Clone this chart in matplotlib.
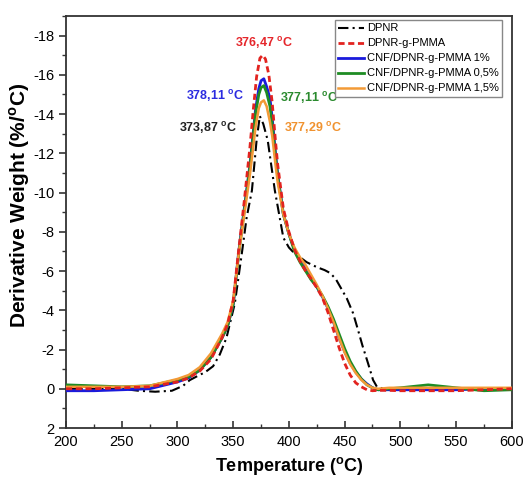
import matplotlib
matplotlib.use("Agg")
import matplotlib.pyplot as plt
from matplotlib.ticker import MultipleLocator

plt.rcParams['font.family'] = ['Liberation Sans', 'DejaVu Sans']
plt.rcParams['axes.unicode_minus'] = False
plt.rcParams['mathtext.fontset'] = 'custom'
plt.rcParams['mathtext.rm'] = 'Liberation Sans'
plt.rcParams['mathtext.bf'] = 'Liberation Sans:bold'

# values (temperature in ºC, derivative weight in %/ºC)
t_dpnr = [200, 225, 250, 265, 280, 295, 305, 311, 318, 325, 332, 338, 344, 351.5, 358, 362, 366.8,
          371, 373.9, 377, 381, 387.4, 395, 400, 405, 410, 416, 425, 432, 437, 442, 446, 452,
          457.6, 462, 466, 471, 475.5, 479, 485, 500, 525, 550, 575, 600]
dtg_dpnr = [0.0, 0.0, 0.0, 0.1, 0.15, 0.1, -0.15, -0.44, -0.65, -0.85, -1.15, -1.75, -2.6, -4.36,
            -7.0, -8.7, -10.1, -12.66, -13.9, -13.5, -12.66, -10.1, -7.7, -7.2, -6.9, -6.7, -6.45,
            -6.2, -6.05, -5.9, -5.6, -5.2, -4.6, -3.85, -3.0, -2.2, -1.3, -0.45, -0.1, 0.0, 0.0,
            0.0, 0.0, 0.0, 0.0]

t_pmma = [200, 225, 250, 275, 300, 310, 320, 330, 340, 345, 350, 355, 360, 365, 368, 371, 374,
          376.5, 379, 382, 385, 388, 390, 395, 400, 405, 410, 415, 420, 425, 430, 435, 440, 445,
          450, 455, 460, 465, 470, 475, 480, 490, 500, 525, 550, 575, 600]
dtg_pmma = [0.0, 0.0, -0.05, -0.1, -0.35, -0.55, -0.9, -1.5, -2.6, -3.3, -4.5, -7.1, -9.6, -12.3,
            -14.2, -15.9, -16.85, -17.0, -16.8, -16.0, -14.6, -12.6, -11.4, -9.2, -8.0, -7.1, -6.5,
            -6.0, -5.6, -5.15, -4.65, -3.9, -3.0, -2.1, -1.3, -0.7, -0.3, -0.1, 0.05, 0.1, 0.08,
            0.08, 0.1, 0.1, 0.1, 0.05, 0.0]

t_cnf = [200, 225, 250, 275, 300, 310, 320, 330, 340, 345, 350, 355, 360, 365, 370, 373, 375,
         377.5, 380, 383, 385, 388, 390, 395, 400, 405, 410, 415, 420, 425, 430, 435, 440, 445,
         450, 455, 460, 465, 470, 475, 480, 490, 500, 525, 550, 575, 600]
dtg_cnf_1 = [0.1, 0.1, 0.05, 0.0, -0.35, -0.55, -0.95, -1.6, -2.6, -3.2, -4.3, -7.0, -9.2, -11.4,
             -14.2, -15.3, -15.7, -15.8, -15.4, -14.8, -13.8, -12.0, -10.9, -8.9, -7.9, -7.1,
             -6.6, -6.1, -5.6, -5.2, -4.7, -4.1, -3.4, -2.6, -1.9, -1.3, -0.85, -0.5, -0.25,
             -0.05, 0.05, 0.05, 0.05, 0.05, 0.05, 0.0, 0.0]
dtg_cnf_05 = [-0.2, -0.15, -0.1, -0.15, -0.45, -0.6, -0.95, -1.6, -2.6, -3.2, -4.3, -6.9, -9.1,
              -11.3, -14.0, -15.0, -15.35, -15.45, -15.1, -14.4, -13.5, -11.8, -10.8, -8.9,
              -7.9, -7.0, -6.45, -6.0, -5.55, -5.2, -4.75, -4.2, -3.55, -2.8, -2.05, -1.4, -0.9,
              -0.5, -0.2, -0.05, 0.05, 0.0, -0.05, -0.2, -0.05, 0.1, 0.05]
dtg_cnf_15 = [-0.1, -0.1, -0.1, -0.15, -0.5, -0.7, -1.1, -1.8, -2.8, -3.4, -4.5, -6.9, -8.9,
              -10.9, -13.3, -14.3, -14.6, -14.7, -14.4, -13.6, -12.9, -11.4, -10.5, -8.9, -7.9,
              -7.2, -6.7, -6.3, -5.8, -5.3, -4.75, -4.1, -3.4, -2.6, -1.85, -1.25, -0.8, -0.45,
              -0.2, -0.05, 0.0, -0.05, -0.05, -0.05, -0.05, -0.05, -0.05]

labels = ['DPNR', 'DPNR-g-PMMA', 'CNF/DPNR-g-PMMA 1%', 'CNF/DPNR-g-PMMA 0,5%', 'CNF/DPNR-g-PMMA 1,5%']
peak_texts = ['373,87 $^{\\mathbf{o}}$C', '376,47 $^{\\mathbf{o}}$C', '378,11 $^{\\mathbf{o}}$C',
              '377,11 $^{\\mathbf{o}}$C', '377,29 $^{\\mathbf{o}}$C']

fig = plt.figure(figsize=(5.26, 4.8), dpi=100)
ax = fig.add_axes([0.1255, 0.1083, 0.8475, 0.8584])

ax.plot(t_dpnr, dtg_dpnr, color='black', ls=(0, (5, 2, 1, 2)), lw=1.5, label=labels[0], zorder=3)
ax.plot(t_pmma, dtg_pmma, color='#e2231f', ls=(0, (2.2, 1.3)), lw=2, label=labels[1], zorder=6)
ax.plot(t_cnf, dtg_cnf_1, color='#1a1adc', lw=2, label=labels[2], zorder=4)
ax.plot(t_cnf, dtg_cnf_05, color='#1e8c24', lw=2, label=labels[3], zorder=4.5)
ax.plot(t_cnf, dtg_cnf_15, color='#f39a36', lw=1.8, label=labels[4], zorder=5)

# peak annotations
kw = dict(fontsize=9, fontweight='bold', ha='center', va='center')
ax.text(377.6, -17.6, peak_texts[1], color='#e5262b', **kw)
ax.text(333.6, -14.9, peak_texts[2], color='#2b2be0', **kw)
ax.text(417.9, -14.8, peak_texts[3], color='#2a8a2e', **kw)
ax.text(327.4, -13.3, peak_texts[0], color='#222222', **kw)
ax.text(421.5, -13.3, peak_texts[4], color='#f0922f', **kw)

ax.set_xlim(200, 600)
ax.set_ylim(2, -19)
ax.xaxis.set_major_locator(MultipleLocator(50))
ax.xaxis.set_minor_locator(MultipleLocator(25))
ax.yaxis.set_major_locator(MultipleLocator(2))
ax.yaxis.set_minor_locator(MultipleLocator(1))
ax.tick_params(axis='x', which='both', direction='in', labelsize=10.5, pad=5, color='#333333')
ax.tick_params(axis='y', which='both', direction='out', labelsize=10.5, color='#333333')
ax.tick_params(which='major', length=5, width=1.2)
ax.tick_params(which='minor', length=3, width=1.0)
for s in ax.spines.values():
    s.set_linewidth(1.3)
    s.set_color('#333333')

ax.set_xlabel('Temperature ($^{\\mathbf{o}}$C)', fontsize=13, fontweight='bold', labelpad=4)
ax.set_ylabel('Derivative Weight (%/$^{\\mathbf{o}}$C)', fontsize=15, fontweight='bold')
ax.yaxis.set_label_coords(-0.076, 0.539)

ax.legend(loc='upper right', bbox_to_anchor=(0.978, 0.99), borderaxespad=0, fontsize=8,
          frameon=True, fancybox=False, edgecolor='#888888', framealpha=1,
          handlelength=2.3, handletextpad=0.25, labelspacing=0.45, borderpad=0.3)

fig.savefig('out.png', dpi=100)
